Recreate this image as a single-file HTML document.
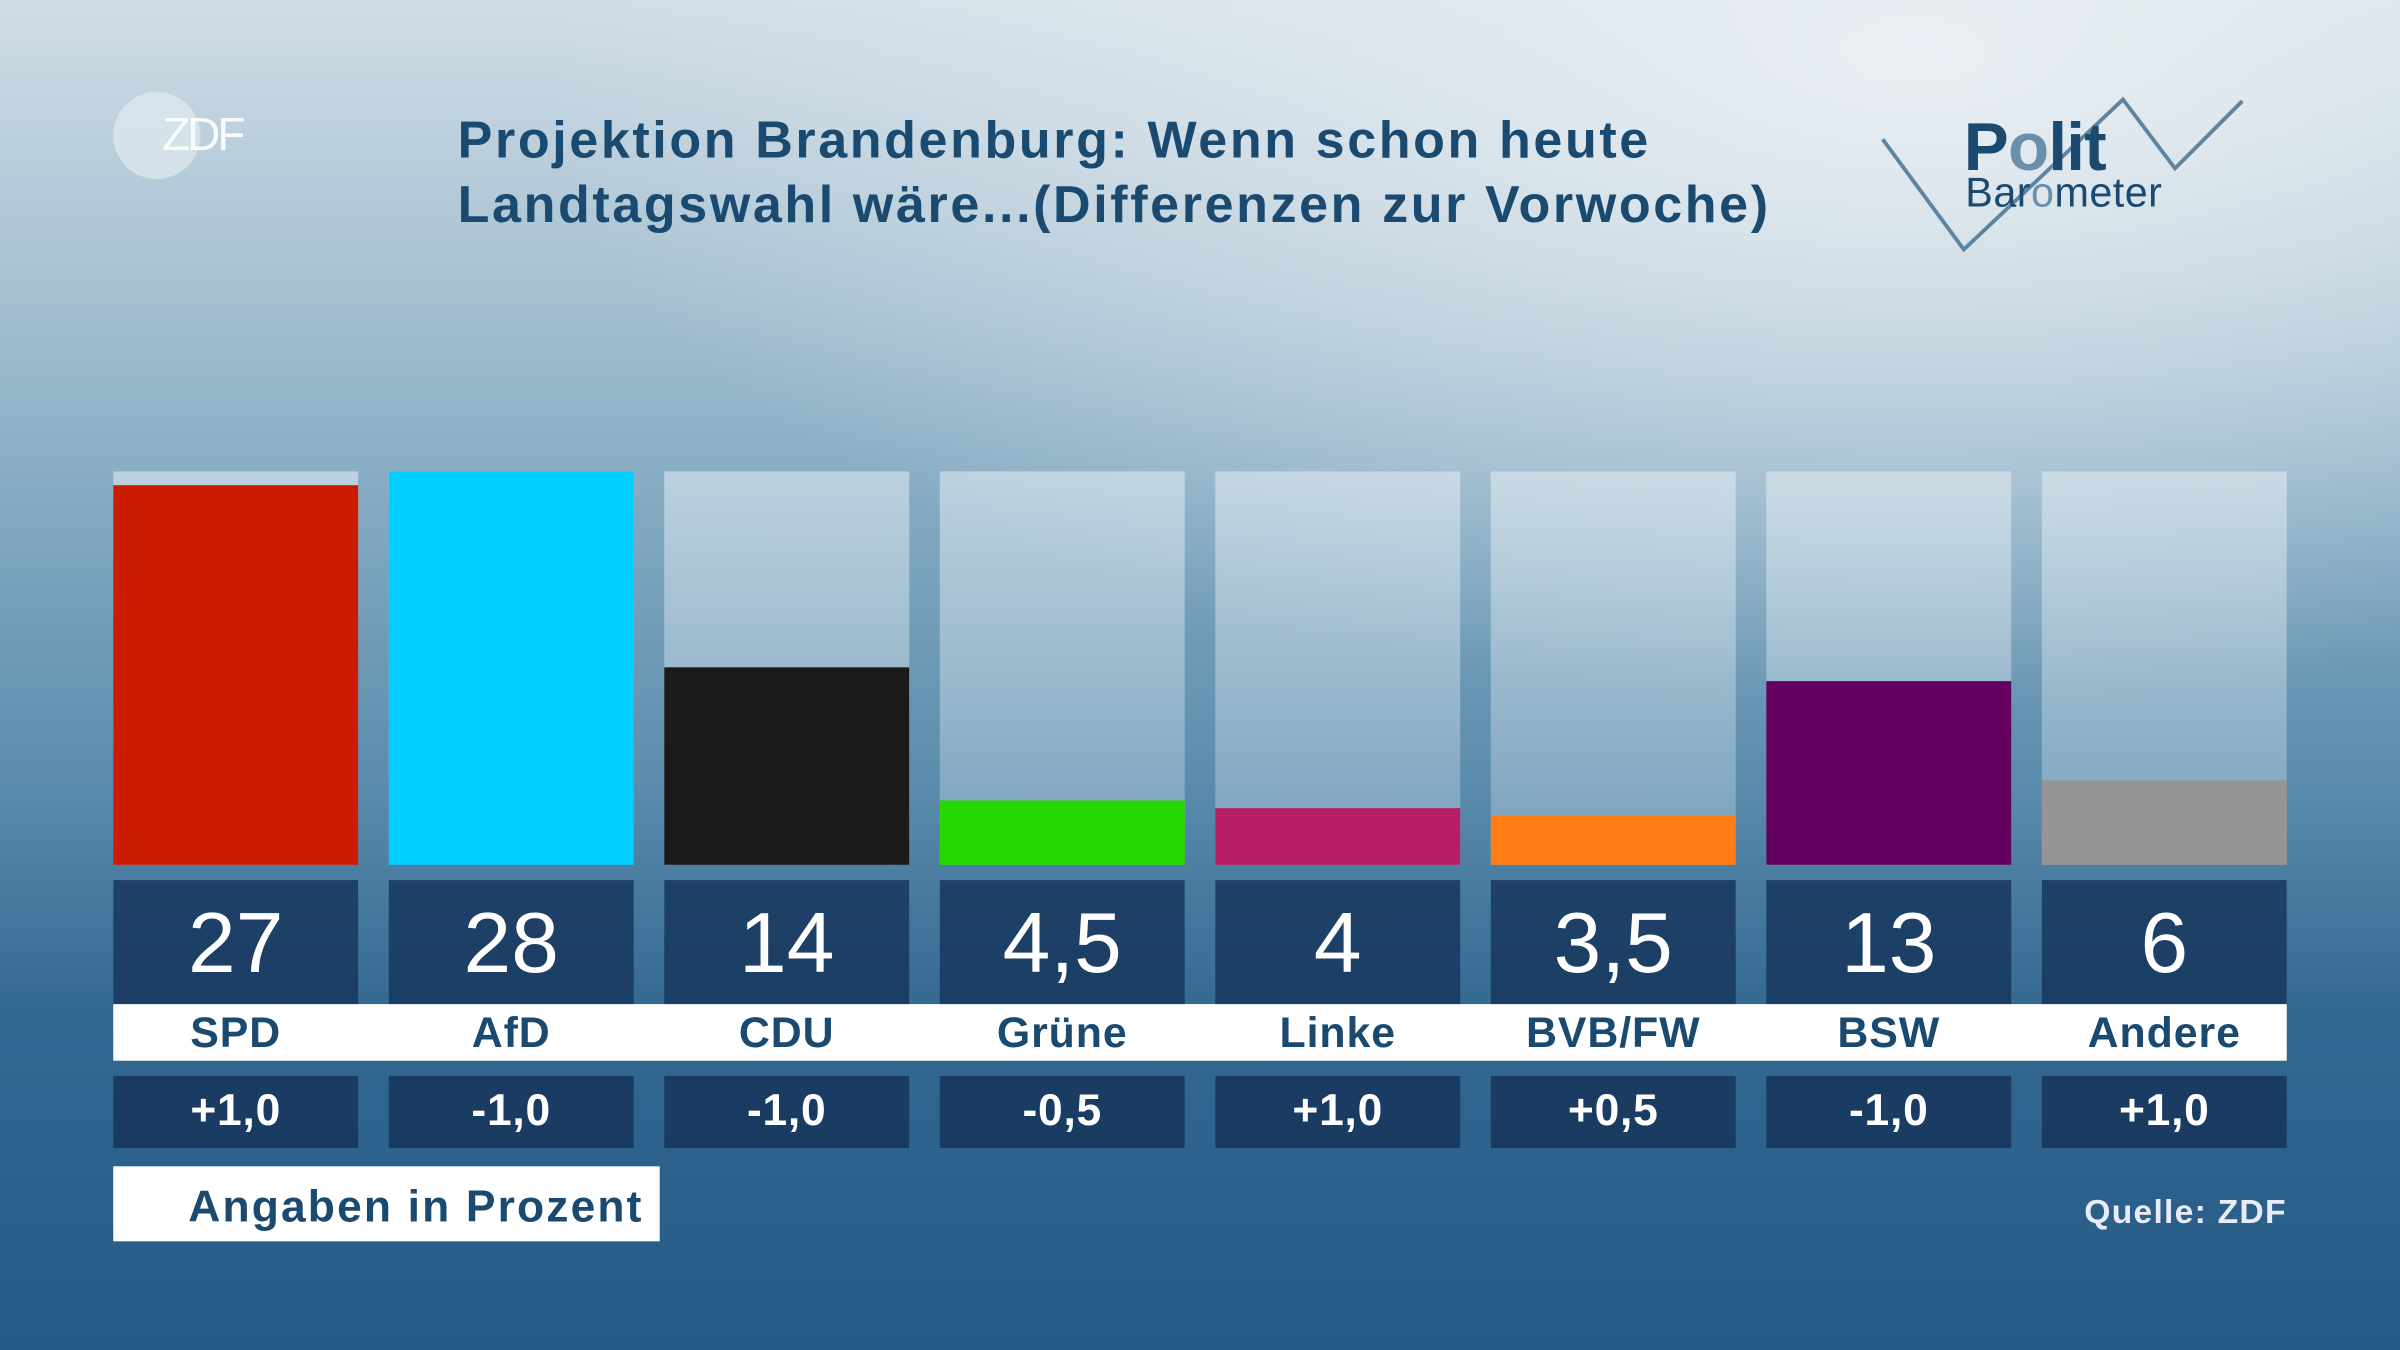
<!DOCTYPE html>
<html><head><meta charset="utf-8"><style>
html,body{margin:0;padding:0;width:2400px;height:1350px;overflow:hidden}
#w{position:relative;width:1568px;height:882px;transform:scale(1.530612);transform-origin:0 0;font-family:"Liberation Sans",sans-serif;
background:
radial-gradient(ellipse 900px 420px at 1250px 40px, rgba(235,240,244,0.95), rgba(235,240,244,0) 100%),
linear-gradient(180deg,#d0dde6 0%,#a5c0d1 22%,#7ea6bf 40%,#5b8cad 58%,#336891 75%,#245a85 100%);}
.a{position:absolute}
.bg{top:308px;height:257px;width:160px;background:linear-gradient(180deg,rgba(230,238,243,0.55),rgba(190,210,222,0.35))}
.bar{width:160px}
.num{top:575px;height:81px;width:160px;background:rgba(22,52,90,0.82);color:#fff;font-size:56px;text-align:center;line-height:81px}
.lab{top:656px;height:37px;width:180px;color:#1b4a70;font-weight:bold;font-size:28px;text-align:center;line-height:38px;letter-spacing:0.6px}
.dif{top:703px;height:47px;width:160px;background:rgba(22,52,90,0.85);color:#fff;font-weight:bold;font-size:29px;text-align:center;line-height:47px;letter-spacing:0.5px}
</style></head><body><div id="w">
<div class="a" style="left:74px;top:60px;width:57px;height:57px;border-radius:50%;background:rgba(230,238,243,0.6)"></div>
<div class="a" style="left:106px;top:72px;color:#fff;font-size:30px;letter-spacing:-2px;opacity:0.9">ZDF</div>
<div class="a" style="left:299px;top:71px;color:#1b4a70;font-weight:bold;font-size:34px;line-height:42px;letter-spacing:1.7px">Projektion Brandenburg: Wenn schon heute<br>Landtagswahl wäre...(Differenzen zur Vorwoche)</div>
<svg class="a" style="left:0;top:0" width="1568" height="200"><polyline points="1230,91 1283,163 1387,65 1421,110 1465,66" fill="none" stroke="#5d84a0" stroke-width="2.5"/></svg>
<div class="a" style="left:1283px;top:72px;color:#1b4a70;font-weight:bold;font-size:44px;letter-spacing:-0.5px">P<span style="color:#6a8fab">o</span>lit</div>
<div class="a" style="left:1284px;top:111px;color:#1b4a70;font-size:27px;letter-spacing:0.3px">Bar<span style="color:#6a8fab">o</span>meter</div>

<div class="a" style="left:74px;top:656px;width:1420px;height:37px;background:#fff"></div>

<div class="a bg" style="left:74px"></div><div class="a bar" style="left:74px;top:317px;height:248px;background:#cc1c00"></div>
<div class="a bg" style="left:254px"></div><div class="a bar" style="left:254px;top:308px;height:257px;background:#00cfff"></div>
<div class="a bg" style="left:434px"></div><div class="a bar" style="left:434px;top:436px;height:129px;background:#1a1a1a"></div>
<div class="a bg" style="left:614px"></div><div class="a bar" style="left:614px;top:523px;height:42px;background:#27d800"></div>
<div class="a bg" style="left:794px"></div><div class="a bar" style="left:794px;top:528px;height:37px;background:#b61f64"></div>
<div class="a bg" style="left:974px"></div><div class="a bar" style="left:974px;top:533px;height:32px;background:#ff7d14"></div>
<div class="a bg" style="left:1154px"></div><div class="a bar" style="left:1154px;top:445px;height:120px;background:#640060"></div>
<div class="a bg" style="left:1334px"></div><div class="a bar" style="left:1334px;top:510px;height:55px;background:#959595"></div>

<div class="a num" style="left:74px">27</div><div class="a num" style="left:254px">28</div><div class="a num" style="left:434px">14</div><div class="a num" style="left:614px">4,5</div>
<div class="a num" style="left:794px">4</div><div class="a num" style="left:974px">3,5</div><div class="a num" style="left:1154px">13</div><div class="a num" style="left:1334px">6</div>

<div class="a lab" style="left:64px">SPD</div><div class="a lab" style="left:244px">AfD</div><div class="a lab" style="left:424px">CDU</div><div class="a lab" style="left:604px">Grüne</div>
<div class="a lab" style="left:784px">Linke</div><div class="a lab" style="left:964px">BVB/FW</div><div class="a lab" style="left:1144px">BSW</div><div class="a lab" style="left:1324px">Andere</div>

<div class="a dif" style="left:74px">+1,0</div><div class="a dif" style="left:254px">-1,0</div><div class="a dif" style="left:434px">-1,0</div><div class="a dif" style="left:614px">-0,5</div>
<div class="a dif" style="left:794px">+1,0</div><div class="a dif" style="left:974px">+0,5</div><div class="a dif" style="left:1154px">-1,0</div><div class="a dif" style="left:1334px">+1,0</div>

<div class="a" style="left:74px;top:762px;width:357px;height:49px;background:#fff"></div>
<div class="a" style="left:123px;top:770px;color:#1b4a70;font-weight:bold;font-size:29px;line-height:38px;letter-spacing:1.4px">Angaben in Prozent</div>
<div class="a" style="left:1294px;top:779px;width:200px;text-align:right;color:#e8ecf8;font-weight:bold;font-size:22px;letter-spacing:0.8px">Quelle: ZDF</div>
</div></body></html>
